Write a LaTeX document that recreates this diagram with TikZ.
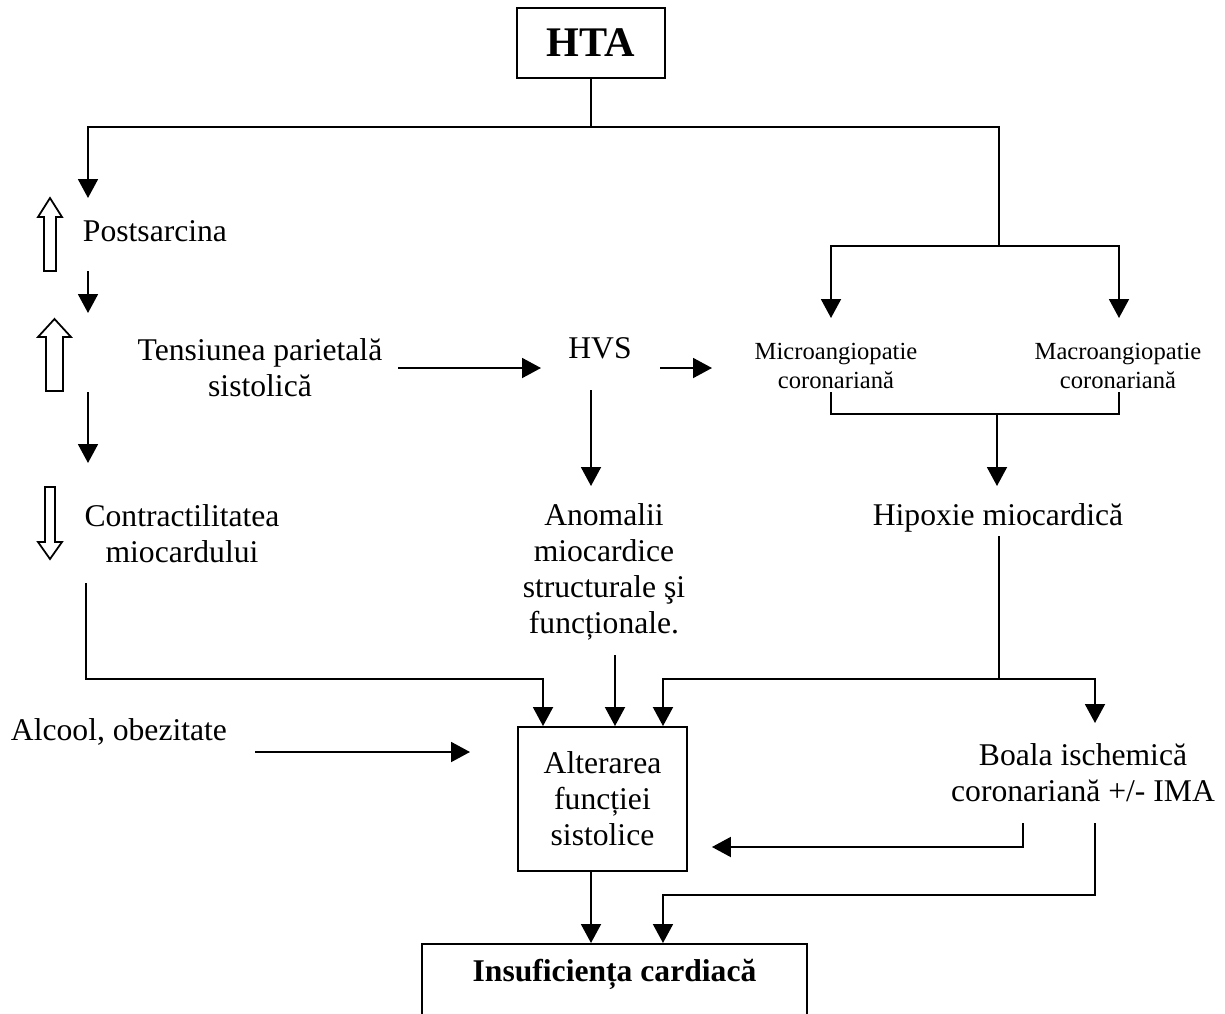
\documentclass[tikz,border=0pt]{standalone}
\usepackage{fontspec}
\setmainfont{Liberation Serif}
\usepackage{tikz}
\usetikzlibrary{arrows.meta, positioning, calc}

\begin{document}
\begin{tikzpicture}[
  x=0.02cm, y=-0.02cm,
  line width=1.1pt,
  txt/.style={align=center, inner sep=0pt, font=\fontsize{18}{20.5}\selectfont},
  smalltxt/.style={align=center, inner sep=0pt, font=\fontsize{14}{16}\selectfont},
  boxnode/.style={draw, inner sep=0pt, align=center, font=\fontsize{18}{20.5}\selectfont},
  arr/.style={-{Triangle[length=0.38cm, width=0.4cm]}},
  hollow/.style={draw, fill=white, line width=1pt}
]
  \path[use as bounding box] (0,0) rectangle (1225,1014);
  \clip (0,0) rectangle (1225,1014);

  % Top
  \node[boxnode, minimum width=2.96cm, minimum height=1.4cm, font=\fontsize{24}{26}\selectfont\bfseries] (hta) at (591,43) {HTA};

  % Left column
  \node[txt, anchor=west] (post) at (82,231) {Postsarcina};
  \node[txt] (tens) at (260,368) {Tensiunea parietală\\sistolică};
  \node[txt] (contr) at (182,534) {Contractilitatea\\miocardului};
  \node[txt, anchor=west] (alc) at (10,732) {Alcool, obezitate};

  % Middle column
  \node[txt] (hvs) at (600,348) {HVS};
  \node[txt] (anom) at (604,572) {Anomalii\\miocardice\\structurale şi\\funcționale.};
  \node[boxnode, minimum width=3.38cm, minimum height=2.88cm] (alt) at (602.5,799) {Alterarea\\funcției\\sistolice};

  % Right column
  \node[smalltxt] (micro) at (836,366) {Microangiopatie\\coronariană};
  \node[smalltxt] (macro) at (1118,366) {Macroangiopatie\\coronariană};
  \node[txt] (hipox) at (998,518) {Hipoxie miocardică};
  \node[txt] (boala) at (1083,773) {Boala ischemică\\coronariană +/- IMA};

  % Bottom
  \node[boxnode, anchor=north, minimum width=7.7cm, minimum height=2cm] (ic) at (614.5,943) {};
  \node[txt, font=\fontsize{18}{20.5}\selectfont\bfseries] (ictext) at (614.5,974) {Insuficiența cardiacă};

  % Up / down markers
  \draw[hollow] (44,271) -- (44,217) -- (38,217) -- (50,198) -- (62,217) -- (56,217) -- (56,271) -- cycle;
  \draw[hollow] (46,391) -- (46,337) -- (38,337) -- (54.5,319) -- (71,337) -- (63,337) -- (63,391) -- cycle;
  \draw[hollow] (45,487) -- (45,542) -- (38,542) -- (50,559) -- (62,542) -- (55,542) -- (55,487) -- cycle;

  % Junctions and free ends
  \coordinate (split) at (591,127);
  \coordinate (rsplit) at (999,246);
  \coordinate (psin) at (88,198);
  \coordinate (psout) at (88,271);
  \coordinate (tsin) at (88,313);
  \coordinate (tsout) at (88,392);
  \coordinate (ctin) at (88,463);
  \coordinate (ctout) at (86,583);
  \coordinate (miin) at (831,318);
  \coordinate (main) at (1119,318);
  \coordinate (miout) at (831,392);
  \coordinate (maout) at (1119,392);
  \coordinate (mjoin) at (997,414);
  \coordinate (hxin) at (997,486);
  \coordinate (hxout) at (999,536);
  \coordinate (hjoin) at (999,679);
  \coordinate (blin) at (1095,723);
  \coordinate (blout1) at (1023,823);
  \coordinate (blout2) at (1095,823);
  \coordinate (hvsin) at (541,368);
  \coordinate (hvsout) at (660,368);
  \coordinate (tsright) at (398,368);
  \coordinate (miinl) at (712,368);
  \coordinate (hvsdown) at (591,390);
  \coordinate (anin) at (591,486);
  \coordinate (anout) at (615,655);
  \coordinate (alcout) at (255,752);
  \coordinate (alcin) at (470,752);

  % Connectors
  \draw (hta.south) -- (split);
  \draw[arr] (split) -| (psin);
  \draw (split) -| (rsplit);
  \draw[arr] (rsplit) -| (miin);
  \draw[arr] (rsplit) -| (main);
  \draw[arr] (psout) -- (tsin);
  \draw[arr] (tsout) -- (ctin);
  \draw[arr] (tsright) -- (hvsin);
  \draw[arr] (hvsout) -- (miinl);
  \draw[arr] (hvsdown) -- (anin);
  \draw (miout) -- (miout |- mjoin) -- (maout |- mjoin) -- (maout);
  \draw[arr] (mjoin) -- (hxin);
  \draw (hxout) -- (hjoin);
  \draw[arr] (hjoin) -| ([xshift=1.21cm]alt.north);
  \draw[arr] (hjoin) -| (blin);
  \draw[arr] (ctout) |- ([xshift=-1.19cm]alt.north |- hjoin) -- ([xshift=-1.19cm]alt.north);
  \draw[arr] (anout) -- (anout |- alt.north);
  \draw[arr] (alcout) -- (alcin);
  \draw[arr] (blout1) |- ([xshift=0.48cm]alt.east |- 0,847);
  \draw[arr] (blout2) |- ([xshift=0.97cm]ic.north |- 0,895) -- ([xshift=0.97cm]ic.north);
  \draw[arr] ([xshift=-0.23cm]alt.south) -- ([xshift=-0.23cm]alt.south |- ic.north);
\end{tikzpicture}
\end{document}
